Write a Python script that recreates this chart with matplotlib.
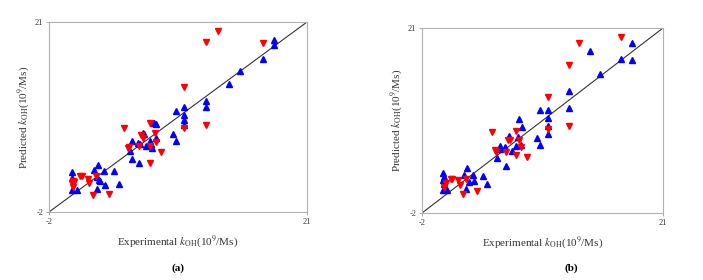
import matplotlib
matplotlib.use("Agg")
import matplotlib.pyplot as plt

plt.rcParams['font.family'] = ['Liberation Serif', 'DejaVu Serif']
plt.rcParams['mathtext.fontset'] = 'stix'

# Panel (a)
a_blue_x = [0.05, 0.05, 0.05, 0.50, 2.34, 2.04, 2.25, 2.49, 2.58, 2.93, 3.02, 2.25, 3.82, 4.24,
            5.25, 5.40, 5.43, 5.96, 6.02, 6.08, 6.35, 6.50, 6.62, 7.00, 7.12, 7.21, 7.24, 7.39,
            7.57, 7.51, 9.03, 9.32, 9.32, 10.01, 10.01, 10.01, 10.01, 12.03, 12.03, 14.02,
            15.03, 17.05, 18.06, 18.06]
a_blue_y = [2.82, 2.13, 0.71, 0.71, 3.63, 3.06, 2.25, 1.85, 1.77, 3.02, 1.32, 0.75, 3.02, 1.44,
            5.41, 6.58, 4.44, 6.38, 3.95, 6.22, 7.60, 7.40, 6.02, 6.54, 6.18, 5.69, 8.81, 8.73,
            8.61, 6.95, 7.47, 10.19, 6.58, 10.75, 9.70, 9.13, 8.53, 11.44, 10.75, 13.47,
            15.04, 16.50, 18.77, 18.16]
a_red_x = [0.02, 0.11, 0.14, 0.26, 0.79, 0.91, 1.45, 1.60, 1.92, 2.22, 3.32, 4.72, 5.07, 5.13,
           6.02, 6.20, 6.38, 6.97, 7.00, 7.00, 7.42, 7.51, 8.01, 10.01, 10.01, 12.03, 12.03,
           13.04, 17.05]
a_red_y = [1.52, 1.77, 1.04, 1.64, 2.33, 2.37, 2.05, 1.52, 0.11, 2.37, 0.23, 8.20, 5.69, 5.89,
           6.02, 7.31, 6.99, 8.73, 6.02, 3.99, 7.51, 6.50, 5.29, 8.12, 13.10, 8.49, 18.57,
           19.86, 18.45]

# Panel (b)
b_blue_x = [0.00, 0.10, 0.00, 0.07, 0.00, 0.39, 1.98, 2.30, 2.49, 2.23, 2.87, 3.00, 3.82, 4.20,
            5.19, 5.41, 5.41, 5.95, 5.98, 6.30, 6.55, 6.97, 7.16, 7.29, 7.45, 7.58, 9.01, 9.29,
            9.29, 10.03, 10.03, 10.03, 10.03, 12.00, 12.00, 14.00, 15.02, 17.03, 18.01, 18.01]
b_blue_y = [3.01, 2.48, 2.06, 1.65, 0.90, 0.90, 2.68, 3.59, 1.82, 0.99, 2.68, 1.98, 2.64, 1.61,
            4.80, 6.29, 6.00, 6.21, 3.84, 7.53, 5.70, 6.33, 7.45, 9.65, 6.50, 8.65, 7.37, 10.85,
            6.41, 10.85, 9.86, 8.78, 7.78, 13.17, 11.01, 18.18, 15.24, 17.15, 19.18, 16.98]
b_red_x = [0.13, 0.26, 0.74, 0.86, 1.40, 1.60, 1.88, 2.17, 3.28, 4.68, 5.00, 5.10, 5.99, 6.21,
           6.37, 6.97, 7.00, 7.29, 7.42, 7.99, 10.03, 10.03, 12.00, 12.00, 12.99, 17.03]
b_red_y = [1.23, 1.73, 2.19, 2.19, 2.06, 1.52, 0.32, 2.27, 0.74, 8.03, 5.83, 5.58, 5.63, 7.12,
           7.03, 8.15, 5.17, 7.03, 6.21, 5.00, 12.42, 8.48, 16.36, 8.86, 19.18, 19.84]

lims = [-2, 21]
tick_labels = ['-2', '21']

fig = plt.figure(figsize=(7.03, 2.80), dpi=100)
ax_a = fig.add_axes([49/703, 68/280, 258/703, 190/280])
ax_b = fig.add_axes([422/703, 67/280, 241/703, 185/280])

panels = [(ax_a, a_blue_x, a_blue_y, a_red_x, a_red_y, '(a)', 178/703),
          (ax_b, b_blue_x, b_blue_y, b_red_x, b_red_y, '(b)', 571/703)]

for ax, bx, by, rx, ry, lab, lx in panels:
    ax.plot(lims, lims, color='#333333', lw=0.8, zorder=1)
    ax.plot(bx, by, linestyle='none', marker='^', color='#0000ff', markersize=4.5, zorder=3)
    ax.plot(rx, ry, linestyle='none', marker='v', color='#ff0000', markersize=4.5, zorder=3)
    ax.set_xlim(lims)
    ax.set_ylim(lims)
    ax.set_xticks(lims)
    ax.set_yticks(lims)
    ax.set_xticklabels(tick_labels)
    ax.set_yticklabels(tick_labels)
    ax.tick_params(labelsize=6, length=2, width=0.6, colors='#999999', labelcolor='#333333', pad=2)
    for sp in ax.spines.values():
        sp.set_color('#b0b0b0')
        sp.set_linewidth(0.8)
    ax.set_xlabel(r'Experimental $k_{\rm OH}$(10$^{9}$/Ms)', fontsize=8, color='#333333', labelpad=6)
    ax.set_ylabel(r'Predicted $k_{\rm OH}$(10$^{9}$/Ms)', fontsize=8, color='#333333', labelpad=2)
    fig.text(lx, 12/280, lab, fontsize=8, fontweight='bold', ha='center', va='center')

fig.savefig('out.png', dpi=100)
